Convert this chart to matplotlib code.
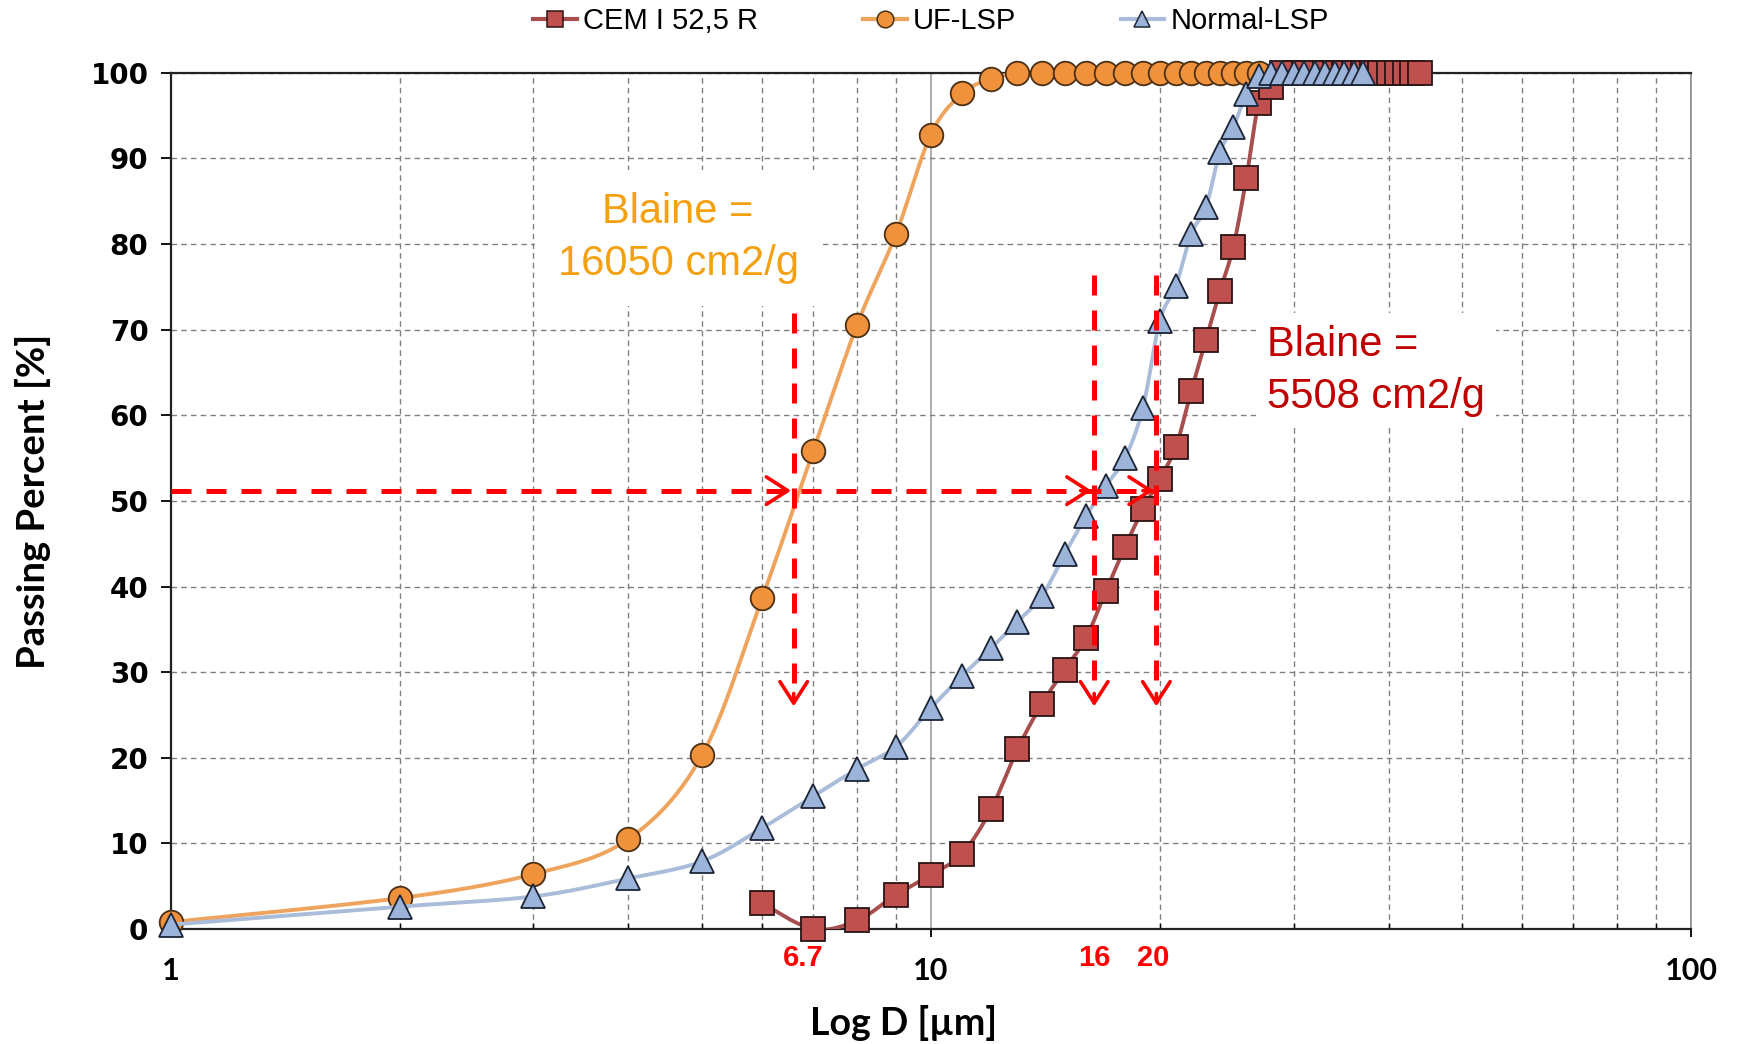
import numpy as np
import matplotlib
matplotlib.use("Agg")
import matplotlib.pyplot as plt
from matplotlib.lines import Line2D

# particle size (um) and cumulative passing (%)
d_cem = [6, 7, 8, 9, 10, 11, 12, 13, 14, 15, 16, 17, 18, 19, 20, 21, 22, 23, 24, 25,
         26, 27, 28, 29, 30, 31, 32, 33, 34, 35, 36, 37, 38, 39, 40, 41, 42, 43, 44]
p_cem = [3.0, 0.0, 1.0, 4.0, 6.3, 8.8, 14.0, 21.0, 26.3, 30.3, 34.0, 39.5, 44.6, 49.0,
         52.6, 56.3, 62.8, 68.8, 74.5, 79.7, 87.7, 96.5, 98.3] + [100.0] * 16

d_uf = list(range(1, 28))
p_uf = [0.8, 3.6, 6.4, 10.5, 20.3, 38.7, 55.8, 70.6, 81.2, 92.8, 97.6, 99.3] + [100.0] * 15

d_norm = list(range(1, 38))
p_norm = [0.5, 2.6, 3.8, 5.9, 7.9, 11.8, 15.5, 18.7, 21.3, 25.8, 29.6, 32.8, 35.9, 38.9,
          43.8, 48.2, 51.8, 55.0, 60.8, 71.0, 75.1, 81.2, 84.3, 90.7, 93.7, 97.5,
          99.6] + [100.0] * 10

# d50 guide lines
d50_pos = [6.6, 16.4, 19.8]
d50_labels = ["6.7", "16", "20"]
d50_level = 51.2
arrow_tops = [71.9, 76.4, 76.4]
arrow_bottom = 26.0


def smooth(x, y, n=25):
    # Excel-like smoothed line (Catmull-Rom as Bezier) in log-x space
    pts = np.column_stack([np.log10(x), y])
    P = np.vstack([pts[0], pts, pts[-1]])
    segs = []
    t = np.linspace(0, 1, n)[:, None]
    for i in range(1, len(P) - 2):
        p0, p1, p2, p3 = P[i - 1], P[i], P[i + 1], P[i + 2]
        c1 = p1 + (p2 - p0) / 6
        c2 = p2 - (p3 - p1) / 6
        segs.append((1 - t) ** 3 * p1 + 3 * (1 - t) ** 2 * t * c1
                    + 3 * (1 - t) * t ** 2 * c2 + t ** 3 * p2)
    a = np.vstack(segs)
    return 10 ** a[:, 0], a[:, 1]


series = [
    ("CEM I 52,5 R", d_cem, p_cem, "s", "#C0504D", "#A84E4E", "#2a1414"),
    ("UF-LSP", d_uf, p_uf, "o", "#F0913C", "#EFA45E", "#4a3015"),
    ("Normal-LSP", d_norm, p_norm, "^", "#9DB4DA", "#A9BCDA", "#1c2536"),
]

fig = plt.figure(figsize=(17.38, 10.44), dpi=100)
ax = fig.add_axes([0.0982, 0.1102, 0.8748, 0.820])

handles = []
for i, (name, d, p, mk, face, lcol, edge) in enumerate(series):
    sx, sy = smooth(d, p)
    ax.plot(sx, sy, color=lcol, lw=2.8, zorder=3 + i, solid_capstyle="round")
    ax.plot(d, p, ls="none", marker=mk, ms=17, mfc=face, mec=edge, mew=1.3,
            zorder=3 + i, clip_on=False)
    handles.append(Line2D([], [], color=lcol, lw=3, marker=mk, ms=12,
                          mfc=face, mec=edge, mew=1.1))

ax.set_xscale("log")
ax.set_xlim(1, 100)
ax.set_ylim(0, 100)
ax.set_yticks(range(0, 101, 10))
ax.set_xticks([1, 10, 100])
ax.set_xticklabels(["1", "10", "100"])

ax.grid(which="minor", axis="x", color="#808080", ls=(0, (4, 3)), lw=1.0)
ax.grid(which="major", axis="x", color="#a0a0a0", ls="-", lw=1.2)
ax.grid(which="major", axis="y", color="#808080", ls=(0, (4, 3)), lw=1.0)
ax.set_axisbelow(True)

for s in ["left", "bottom", "top"]:
    ax.spines[s].set_color("#222222")
    ax.spines[s].set_linewidth(1.6)
ax.spines["right"].set_color("#909090")
ax.spines["right"].set_linewidth(1.2)

ax.tick_params(axis="y", which="major", direction="out", length=7, width=1.3,
               pad=9, labelsize=20)
ax.tick_params(axis="x", which="major", direction="out", length=6, width=1.3,
               pad=14, labelsize=22)
ax.tick_params(axis="x", which="minor", direction="in", length=4, width=1.0)
for lab in ax.get_yticklabels():
    lab.set_fontfamily("DejaVu Sans")
    lab.set_fontweight("bold")
for lab in ax.get_xticklabels():
    lab.set_fontfamily("Lato")
    lab.set_fontweight("bold")

ax.set_xlabel("Log D [µm]", fontsize=27, fontweight="bold", family="Lato")
ax.xaxis.set_label_coords(0.482, -0.089)
ax.set_ylabel("Passing Percent [%]", fontsize=27.5, fontweight="bold", family="Lato")
ax.yaxis.set_label_coords(-0.079, 0.5)

# red d50 guides
red = "#FF0000"
dash = (0, (4, 3))
ax.plot([1, d50_pos[-1]], [d50_level, d50_level], color=red, lw=3.6, ls=dash,
        zorder=8)
for xv, top in zip(d50_pos, arrow_tops):
    ax.plot([xv, xv], [top, arrow_bottom + 2], color=red, lw=3.6, ls=dash, zorder=8)
    ax.annotate("", xy=(xv, arrow_bottom), xytext=(xv, arrow_bottom + 1.5),
                arrowprops=dict(arrowstyle="->,head_length=0.7,head_width=0.45",
                                color=red, lw=2.6, mutation_scale=22,
                                shrinkA=0, shrinkB=0), zorder=9)
    ax.annotate("", xy=(xv * 0.992, d50_level), xytext=(xv * 0.96, d50_level),
                arrowprops=dict(arrowstyle="->,head_length=0.7,head_width=0.45",
                                color=red, lw=2.6, mutation_scale=22,
                                shrinkA=0, shrinkB=0), zorder=9)
xt = ax.get_xaxis_transform()
label_shift = [1.03, 1.0, 0.99]
for xv, lab, k in zip(d50_pos, d50_labels, label_shift):
    ax.text(xv * k, -0.034, lab, transform=xt, ha="center", va="center",
            color=red, fontsize=21, fontweight="bold", family="Liberation Sans")

ax.text(4.65, 80.7, "Blaine =\n16050 cm2/g", color="#F5A10F", fontsize=30,
        family="Liberation Sans", ha="center", va="center", linespacing=1.4,
        bbox=dict(facecolor="white", edgecolor="none", pad=16), zorder=2)
ax.text(27.7, 65.2, "Blaine =\n5508 cm2/g", color="#C00000", fontsize=30,
        family="Liberation Sans", ha="left", va="center", linespacing=1.4,
        bbox=dict(facecolor="white", edgecolor="none", pad=8), zorder=2)

ax.legend(handles, [s[0] for s in series], loc="lower center",
          bbox_to_anchor=(0.5, 1.0), ncol=3, frameon=False,
          prop={"family": "Liberation Sans", "size": 21}, handlelength=1.5,
          handletextpad=0.2, columnspacing=3.6, borderaxespad=0.9)

fig.savefig("out.png", dpi=100, facecolor="white")
